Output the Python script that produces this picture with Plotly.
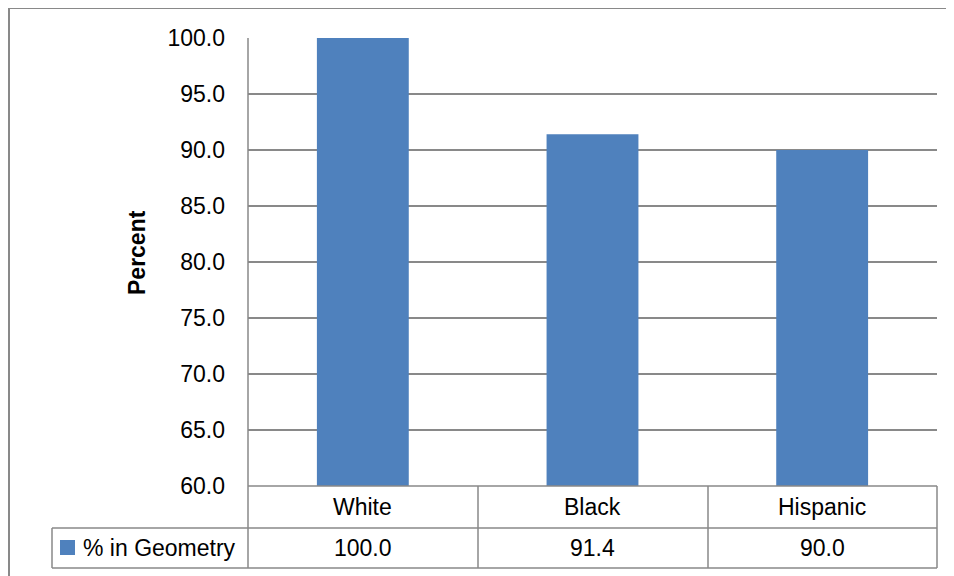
import plotly.graph_objects as go

categories = ["White", "Black", "Hispanic"]
values = [100.0, 91.4, 90.0]
series_name = "% in Geometry"
y_title = "Percent"
y_ticks = [60, 65, 70, 75, 80, 85, 90, 95, 100]

W, H = 954, 576
OFF = 8  # page body margin in the browser
L, R, T, B = 248 - OFF, 937 - OFF, 38 - OFF, 486 - OFF  # plot area in figure pixels
BAR = "#4F81BD"
GRID = "#898989"


def px(x):
    return (x - OFF - L) / (R - L)


def py(y):
    return (B - (y - OFF)) / (B - T)


fig = go.Figure(
    go.Bar(x=categories, y=values, marker=dict(color=BAR, line=dict(width=0)),
           name=series_name, showlegend=False)
)

shapes = []


def line(x0, y0, x1, y1, w=1.5, c=GRID):
    shapes.append(dict(type="line", xref="paper", yref="paper",
                       x0=px(x0), y0=py(y0), x1=px(x1), y1=py(y1),
                       line=dict(color=c, width=w)))


# outer frame
line(9, 8, 970, 8, w=2)
line(9, 8, 9, 600, w=2)
# plot left border
line(248, 38, 248, 486)
# data table
line(248, 486, 937, 486)
line(52, 528, 937, 528)
line(52, 568, 937, 568)
line(52, 528, 52, 568)
for xv in [248, 478, 708, 937]:
    line(xv, 486, xv, 568)
# legend key
shapes.append(dict(type="rect", xref="paper", yref="paper",
                   x0=px(60), x1=px(75), y0=py(540), y1=py(555),
                   fillcolor=BAR, line=dict(width=0)))

TABLE_FONT = dict(family="Liberation Sans, Arial", size=23, color="#000")
annotations = []
for c, v in zip(categories, values):
    annotations.append(dict(x=c, xref="x", y=py(507), yref="paper", text=c,
                            showarrow=False, font=TABLE_FONT, xanchor="center", yanchor="middle"))
    annotations.append(dict(x=c, xref="x", y=py(548), yref="paper", text=f"{v:.1f}",
                            showarrow=False, font=TABLE_FONT, xanchor="center", yanchor="middle"))
annotations.append(dict(x=px(81), xref="paper", y=py(548), yref="paper", text=series_name,
                        showarrow=False, font=TABLE_FONT, xanchor="left", yanchor="middle"))
annotations.append(dict(x=px(137), xref="paper", y=py(253), yref="paper", text=f"<b>{y_title}</b>",
                        showarrow=False, textangle=-90,
                        font=dict(family="Liberation Sans, Arial", size=23, color="#000"),
                        xanchor="center", yanchor="middle"))

fig.update_layout(
    width=W, height=H,
    margin=dict(l=L, r=W - R, t=T, b=H - B, pad=0),
    paper_bgcolor="white", plot_bgcolor="white",
    bargap=0.6,
    shapes=shapes, annotations=annotations,
    xaxis=dict(showticklabels=False, showgrid=False, zeroline=False, showline=False, ticks=""),
    yaxis=dict(range=[60, 100], tickvals=y_ticks, tickformat=".1f",
               showgrid=True, gridcolor=GRID, gridwidth=1.5, zeroline=False,
               showline=False, ticks="", ticklabelstandoff=22,
               tickfont=dict(family="Liberation Sans, Arial", size=23, color="#000")),
    font=dict(family="Liberation Sans, Arial"),
)

fig.write_html("out.html")
